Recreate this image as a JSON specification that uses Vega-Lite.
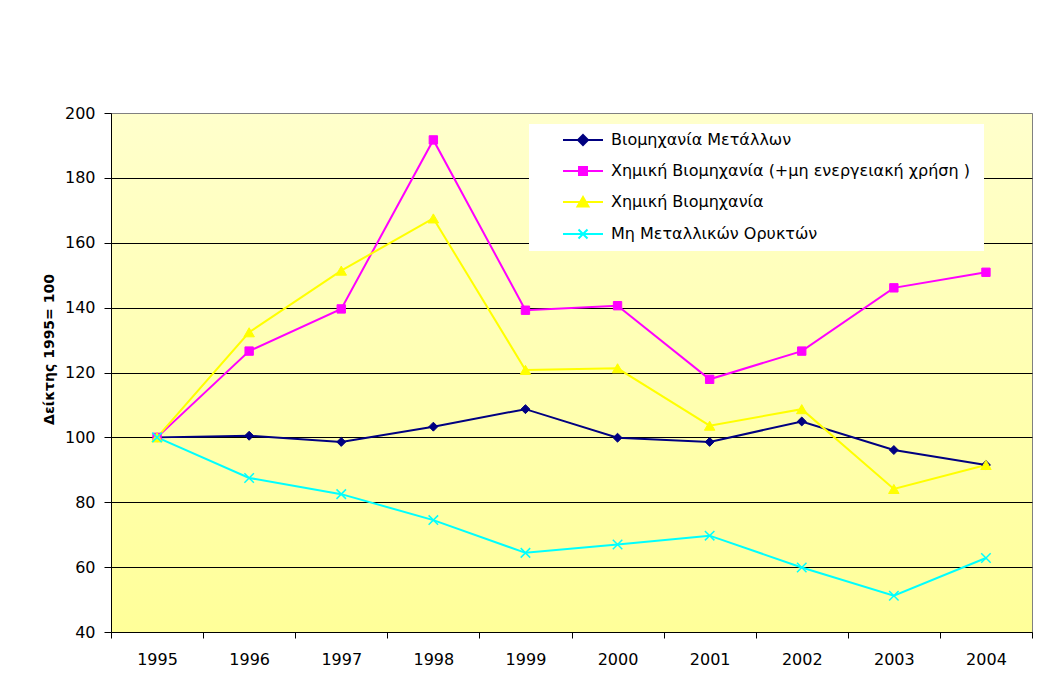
{
  "$schema": "https://vega.github.io/schema/vega-lite/v6.json",
  "width": 921,
  "height": 519,
  "autosize": "none",
  "padding": {"left": 111, "top": 113, "right": 17, "bottom": 57},
  "background": "white",
  "config": {
    "font": "DejaVu Sans",
    "view": {
      "fill": {"gradient": "linear", "x1": 0, "y1": 0, "x2": 0, "y2": 1, "stops": [{"offset": 0, "color": "#FFFFCC"}, {"offset": 1, "color": "#FFFF99"}]},
      "stroke": "#808080",
      "strokeWidth": 1
    }
  },
  "data": {
    "values": [
      {"year": "1995", "series": "Βιομηχανία Μετάλλων", "value": 100},
      {"year": "1996", "series": "Βιομηχανία Μετάλλων", "value": 100.5},
      {"year": "1997", "series": "Βιομηχανία Μετάλλων", "value": 98.6},
      {"year": "1998", "series": "Βιομηχανία Μετάλλων", "value": 103.3},
      {"year": "1999", "series": "Βιομηχανία Μετάλλων", "value": 108.7},
      {"year": "2000", "series": "Βιομηχανία Μετάλλων", "value": 99.9},
      {"year": "2001", "series": "Βιομηχανία Μετάλλων", "value": 98.6},
      {"year": "2002", "series": "Βιομηχανία Μετάλλων", "value": 104.9},
      {"year": "2003", "series": "Βιομηχανία Μετάλλων", "value": 96.1},
      {"year": "2004", "series": "Βιομηχανία Μετάλλων", "value": 91.5},
      {"year": "1995", "series": "Χημική Βιομηχανία  (+μη ενεργειακή χρήση )", "value": 100},
      {"year": "1996", "series": "Χημική Βιομηχανία  (+μη ενεργειακή χρήση )", "value": 126.6},
      {"year": "1997", "series": "Χημική Βιομηχανία  (+μη ενεργειακή χρήση )", "value": 139.6},
      {"year": "1998", "series": "Χημική Βιομηχανία  (+μη ενεργειακή χρήση )", "value": 191.7},
      {"year": "1999", "series": "Χημική Βιομηχανία  (+μη ενεργειακή χρήση )", "value": 139.2},
      {"year": "2000", "series": "Χημική Βιομηχανία  (+μη ενεργειακή χρήση )", "value": 140.6},
      {"year": "2001", "series": "Χημική Βιομηχανία  (+μη ενεργειακή χρήση )", "value": 117.9},
      {"year": "2002", "series": "Χημική Βιομηχανία  (+μη ενεργειακή χρήση )", "value": 126.6},
      {"year": "2003", "series": "Χημική Βιομηχανία  (+μη ενεργειακή χρήση )", "value": 146.1},
      {"year": "2004", "series": "Χημική Βιομηχανία  (+μη ενεργειακή χρήση )", "value": 150.9},
      {"year": "1995", "series": "Χημική Βιομηχανία", "value": 100},
      {"year": "1996", "series": "Χημική Βιομηχανία", "value": 132.4},
      {"year": "1997", "series": "Χημική Βιομηχανία", "value": 151.4},
      {"year": "1998", "series": "Χημική Βιομηχανία", "value": 167.5},
      {"year": "1999", "series": "Χημική Βιομηχανία", "value": 120.8},
      {"year": "2000", "series": "Χημική Βιομηχανία", "value": 121.3},
      {"year": "2001", "series": "Χημική Βιομηχανία", "value": 103.6},
      {"year": "2002", "series": "Χημική Βιομηχανία", "value": 108.7},
      {"year": "2003", "series": "Χημική Βιομηχανία", "value": 84.1},
      {"year": "2004", "series": "Χημική Βιομηχανία", "value": 91.5},
      {"year": "1995", "series": "Μη Μεταλλικών Ορυκτών", "value": 100},
      {"year": "1996", "series": "Μη Μεταλλικών Ορυκτών", "value": 87.5},
      {"year": "1997", "series": "Μη Μεταλλικών Ορυκτών", "value": 82.5},
      {"year": "1998", "series": "Μη Μεταλλικών Ορυκτών", "value": 74.5},
      {"year": "1999", "series": "Μη Μεταλλικών Ορυκτών", "value": 64.4},
      {"year": "2000", "series": "Μη Μεταλλικών Ορυκτών", "value": 67.0},
      {"year": "2001", "series": "Μη Μεταλλικών Ορυκτών", "value": 69.7},
      {"year": "2002", "series": "Μη Μεταλλικών Ορυκτών", "value": 59.9},
      {"year": "2003", "series": "Μη Μεταλλικών Ορυκτών", "value": 51.2},
      {"year": "2004", "series": "Μη Μεταλλικών Ορυκτών", "value": 62.8}
    ]
  },
  "encoding": {
    "x": {
      "field": "year",
      "type": "ordinal",
      "bandPosition": 0.5,
      "scale": {"type": "band", "paddingInner": 0, "paddingOuter": 0},
      "axis": {
        "title": null,
        "labelAngle": 0,
        "labelFontSize": 16,
        "labelColor": "black",
        "labelPadding": 13,
        "tickBand": "extent",
        "tickSize": 6,
        "tickColor": "black",
        "domainColor": "black",
        "grid": false
      }
    },
    "y": {
      "field": "value",
      "type": "quantitative",
      "scale": {"domain": [40, 200], "nice": false, "zero": false},
      "axis": {
        "title": "Δείκτης  1995= 100",
        "titleFontSize": 14,
        "titleFontWeight": "bold",
        "titleColor": "black",
        "titleX": -58,
        "titleY": 236,
        "titleAngle": -90,
        "titleAlign": "center",
        "titleBaseline": "alphabetic",
        "values": [40, 60, 80, 100, 120, 140, 160, 180, 200],
        "labelFontSize": 16,
        "labelColor": "black",
        "labelPadding": 9,
        "tickSize": 7,
        "tickColor": "black",
        "domainColor": "black",
        "grid": true,
        "gridColor": {"condition": {"test": "datum.value === 200", "value": "#808080"}, "value": "black"},
        "gridOpacity": 1,
        "gridWidth": 1
      }
    },
    "color": {
      "field": "series",
      "type": "nominal",
      "scale": {
        "domain": ["Βιομηχανία Μετάλλων", "Χημική Βιομηχανία  (+μη ενεργειακή χρήση )", "Χημική Βιομηχανία", "Μη Μεταλλικών Ορυκτών"],
        "range": ["#000080", "#FF00FF", "#FFFF00", "#00FFFF"]
      },
      "legend": {
        "orient": "none",
        "legendX": 418,
        "legendY": 11,
        "title": "\u00a0",
        "titleOrient": "left",
        "titleFontSize": 16,
        "titlePadding": 38,
        "padding": 8,
        "fillColor": "white",
        "strokeColor": null,
        "labelFontSize": 16,
        "labelColor": "black",
        "labelOffset": 20,
        "labelLimit": 500,
        "rowPadding": 14,
        "symbolSize": 100,
        "encode": {
          "symbols": {
            "update": {
              "shape": {"signal": "datum.value === 'Βιομηχανία Μετάλλων' ? 'M-4,0H4M0,-1L1,0L0,1L-1,0Z' : datum.value === 'Χημική Βιομηχανία' ? 'M-4,0H4M0,-1L1.1,0.9L-1.1,0.9Z' : datum.value === 'Μη Μεταλλικών Ορυκτών' ? 'M-4,0H4M-0.9,-0.9L0.9,0.9M-0.9,0.9L0.9,-0.9' : 'M-4,0H4M-0.8,-0.8H0.8V0.8H-0.8Z'"},
              "fill": {"signal": "datum.value === 'Βιομηχανία Μετάλλων' ? '#000080' : datum.value === 'Χημική Βιομηχανία' ? '#FFFF00' : datum.value === 'Μη Μεταλλικών Ορυκτών' ? '#00FFFF' : '#FF00FF'"},
              "stroke": {"signal": "datum.value === 'Βιομηχανία Μετάλλων' ? '#000080' : datum.value === 'Χημική Βιομηχανία' ? '#FFFF00' : datum.value === 'Μη Μεταλλικών Ορυκτών' ? '#00FFFF' : '#FF00FF'"},
              "strokeWidth": {"value": 2},
              "size": {"value": 100},
              "opacity": {"value": 1},
              "fillOpacity": {"value": 1},
              "strokeOpacity": {"value": 1}
            }
          }
        }
      }
    }
  },
  "layer": [
    {
      "mark": {"type": "line", "strokeWidth": 2}
    },
    {
      "transform": [{"filter": "datum.series === 'Βιομηχανία Μετάλλων'"}],
      "mark": {"type": "point", "shape": "diamond", "filled": true, "opacity": 1, "size": 80, "stroke": "#000080", "strokeWidth": 1}
    },
    {
      "transform": [{"filter": "datum.series === 'Χημική Βιομηχανία  (+μη ενεργειακή χρήση )'"}],
      "mark": {"type": "point", "shape": "square", "filled": true, "opacity": 1, "size": 70, "stroke": "#FF00FF", "strokeWidth": 1}
    },
    {
      "transform": [{"filter": "datum.series === 'Χημική Βιομηχανία'"}],
      "mark": {"type": "point", "shape": "triangle-up", "filled": true, "opacity": 1, "size": 110, "stroke": "#FFFF00", "strokeWidth": 1}
    },
    {
      "transform": [{"filter": "datum.series === 'Μη Μεταλλικών Ορυκτών'"}],
      "mark": {"type": "point", "shape": "M-1,-1L1,1M-1,1L1,-1", "filled": true, "opacity": 1, "size": 90, "stroke": "#00FFFF", "strokeWidth": 1.5}
    }
  ]
}
